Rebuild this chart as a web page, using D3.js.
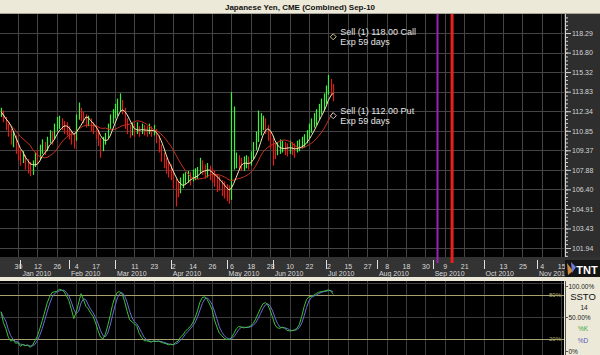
<!DOCTYPE html>
<html>
<head>
<meta charset="utf-8">
<title>Japanese Yen, CME (Combined) Sep-10</title>
<script src="https://d3js.org/d3.v7.min.js"></script>
<style>
  body { margin: 0; background: #ece9d8; }
  svg { display: block; font-family: "Liberation Sans", Arial, sans-serif; }
</style>
</head>
<body>
<div id="chart"></div>
<script>
// bars, one per trading slot, starting at slot -7 (slot 0 = Dec 30 2009)
const firstSlot = -7;
const closes = [
  112.3,111.8,111.2,110.9,110.1,110.3,109.4,109.1,108.6,108.9,
  108.3,108.1,107.8,108.3,108.8,108.6,109.3,109.6,109.5,110.0,
  110.4,110.2,110.9,111.3,111.5,111.3,111.1,110.9,110.7,110.2,
  110.0,111.8,112.4,112.0,111.8,111.5,111.6,111.2,111.0,110.7,
  110.1,109.5,109.9,110.3,111.0,111.6,111.9,112.3,112.6,112.9,
  112.5,111.4,111.0,110.8,111.0,110.9,111.0,110.8,111.0,110.9,
  110.8,110.9,110.8,110.9,110.3,109.6,109.0,108.4,108.1,107.8,
  107.7,106.9,106.5,106.3,106.8,107.0,107.2,107.3,107.2,107.4,
  107.5,107.6,108.2,108.0,107.7,107.8,107.6,107.4,107.2,107.0,
  106.8,106.5,106.3,106.1,106.0,107.6,108.3,108.6,108.4,108.2,
  108.3,108.5,108.4,108.7,109.3,109.9,110.6,111.2,111.5,111.1,
  110.6,110.0,109.6,109.2,109.5,109.6,109.7,109.5,109.4,109.6,
  109.5,109.4,109.6,109.7,109.9,110.1,110.4,110.8,111.2,111.6,
  111.9,112.3,112.6,113.0,113.6,114.4,114.0,113.6
];
const highs = [
  112.6,112.4,111.9,111.4,111.0,110.8,110.5,109.7,109.4,109.3,
  109.0,108.7,108.5,108.6,109.2,109.4,109.8,110.2,110.0,110.4,
  110.9,110.8,111.4,111.9,112.0,111.8,111.6,111.5,111.2,110.9,
  110.6,112.1,113.0,112.6,112.3,112.1,112.0,111.8,111.5,111.3,
  110.9,110.3,110.4,110.7,111.4,112.1,112.5,112.9,113.3,113.7,
  113.2,112.6,111.8,111.3,111.5,111.4,111.5,111.2,111.4,111.3,
  111.2,111.4,111.2,111.3,111.0,110.5,109.8,109.2,108.8,108.5,
  108.3,107.9,107.2,107.0,107.3,107.6,107.7,107.8,107.7,107.9,
  108.0,108.1,108.8,108.6,108.3,108.4,108.2,108.0,107.8,107.5,
  107.4,107.1,107.0,106.8,106.7,113.8,112.7,109.2,109.0,108.8,
  108.9,109.0,108.9,109.3,110.0,110.8,112.4,112.2,112.0,111.8,
  111.3,110.8,110.3,109.9,110.0,110.2,110.1,110.0,109.9,110.1,
  110.0,109.9,110.1,110.2,110.4,110.6,110.9,111.4,111.8,112.2,
  112.5,112.9,113.3,113.7,114.3,115.1,114.8,114.4
];
const lows = [
  111.9,111.5,110.9,110.4,109.8,109.6,109.1,108.6,108.2,108.4,
  107.9,107.6,107.4,107.5,108.1,108.3,108.7,109.1,109.0,109.3,
  109.9,109.8,110.2,110.8,111.0,110.9,110.6,110.5,110.2,109.8,
  109.5,110.1,111.7,111.6,111.4,111.1,111.2,110.8,110.6,110.2,
  109.7,108.8,109.3,109.8,110.3,111.0,111.4,111.8,112.0,112.3,
  112.1,111.0,110.6,110.3,110.5,110.4,110.6,110.4,110.6,110.5,
  110.4,110.6,110.4,110.5,109.9,109.2,108.5,108.0,107.6,107.3,
  107.1,106.4,105.1,105.8,106.1,106.5,106.8,106.9,106.7,107.0,
  107.1,107.2,107.6,107.5,107.2,107.3,107.1,106.9,106.6,106.2,
  106.3,105.9,105.7,105.5,105.3,105.6,107.9,108.0,107.9,107.8,
  107.8,108.0,107.9,108.2,108.7,109.4,110.0,110.5,110.9,110.6,
  110.1,109.5,108.2,108.7,109.0,109.1,109.2,109.0,108.9,109.1,
  109.0,108.8,109.2,109.3,109.5,109.6,109.9,110.3,110.7,111.1,
  111.3,111.7,112.1,112.4,112.9,113.6,113.5,113.1
];

// axis labels
const priceTicks = [101.94,103.43,104.91,106.40,107.88,109.37,110.85,112.34,113.83,115.32,116.80,118.29];
const dayLabels = ["30","12","26","4","17","","11","23","2","14","26","6","18","28","10",
                   "22","2","15","27","8","18","30","9","21","","13","25","4","15"];
const monthLabels = ["Jan 2010","Feb 2010","Mar 2010","Apr 2010","May 2010","Jun 2010",
                     "Jul 2010","Aug 2010","Sep 2010","Oct 2010","Nov 2010"];
const monthStarts = [1,21,40,63,86,105,127,148,171,192,214];

// option orders and expiry lines
const orderLabels = ["Sell (1) 118.00 Call","Sell (1) 112.00 Put"];
const orderStrikes = [118.00, 112.00];
const orderExpiry = ["Exp 59 days","Exp 59 days"];
const expirySlots = [173, 179];

const W = 600, H = 355;
const plotR = 564, mainTop = 14, mainBot = 257, axisBot = 277, oscTop = 281;

const x = d3.scaleLinear().domain([0, 224]).range([18, 18 + 28 * 19.4]);
const y = d3.scaleLinear().domain([101.94, 118.29]).range([248, 33]);
const oy = d3.scaleLinear().domain([20, 80]).range([339, 295]);

const bars = closes.map((c, i) => ({
  slot: firstSlot + i, close: c, high: highs[i], low: lows[i],
  up: i === 0 ? true : c >= closes[i - 1]
}));

function sma(arr, n) {
  return arr.map((v, i) => d3.mean(arr.slice(Math.max(0, i - n + 1), i + 1)));
}
const maFast = sma(closes, 5);
const maSlow = sma(closes, 13);

// slow stochastic 14
const fastK = closes.map((c, i) => {
  const hh = d3.max(highs.slice(Math.max(0, i - 13), i + 1));
  const ll = d3.min(lows.slice(Math.max(0, i - 13), i + 1));
  return hh === ll ? 50 : 100 * (c - ll) / (hh - ll);
});
const slowK = sma(fastK, 3);
const slowD = sma(slowK, 3);

const svg = d3.select("#chart").append("svg").attr("width", W).attr("height", H);

svg.append("rect").attr("width", W).attr("height", H).attr("fill", "#ece9d8");
svg.append("line").attr("x1", 0).attr("x2", W).attr("y1", 13.5).attr("y2", 13.5).attr("stroke", "#a8a69a");
svg.append("text").attr("x", 300).attr("y", 10).attr("text-anchor", "middle")
  .attr("font-size", 8).attr("font-weight", "bold").attr("fill", "#111")
  .text("Japanese Yen, CME (Combined) Sep-10");

// panels
svg.append("rect").attr("x", 0).attr("y", mainTop).attr("width", plotR).attr("height", mainBot - mainTop).attr("fill", "#000");
svg.append("rect").attr("x", plotR).attr("y", mainTop).attr("width", W - plotR).attr("height", mainBot - mainTop).attr("fill", "#2e2e2e");
svg.append("rect").attr("x", 0).attr("y", mainBot).attr("width", W).attr("height", axisBot - mainBot).attr("fill", "#333");
svg.append("rect").attr("x", 0).attr("y", oscTop).attr("width", plotR).attr("height", H - oscTop).attr("fill", "#000");

svg.append("clipPath").attr("id", "clipMain").append("rect")
  .attr("x", 0).attr("y", mainTop).attr("width", plotR).attr("height", mainBot - mainTop);
svg.append("clipPath").attr("id", "clipOsc").append("rect")
  .attr("x", 0).attr("y", oscTop).attr("width", plotR).attr("height", H - oscTop);

const gridSlots = d3.range(0, 29).map(k => k * 8);
const px = v => Math.round(v) + 0.5;

// main grid
const main = svg.append("g").attr("clip-path", "url(#clipMain)");
main.selectAll(".vg").data(gridSlots).join("line")
  .attr("x1", d => px(x(d))).attr("x2", d => px(x(d)))
  .attr("y1", mainTop).attr("y2", mainBot).attr("stroke", "#444");
main.selectAll(".hg").data(priceTicks).join("line")
  .attr("x1", 0).attr("x2", plotR)
  .attr("y1", d => px(y(d))).attr("y2", d => px(y(d))).attr("stroke", "#444");

// bars
main.selectAll(".bar").data(bars).join("line")
  .attr("x1", d => px(x(d.slot))).attr("x2", d => px(x(d.slot)))
  .attr("y1", d => y(d.high)).attr("y2", d => y(d.low))
  .attr("stroke", d => d.up ? "#3cf03c" : "#e01c14").attr("stroke-width", 1.2);

// moving averages
const maLine = d3.line().x((d, i) => x(firstSlot + i)).y(d => y(d));
main.append("path").datum(maSlow).attr("d", maLine).attr("fill", "none").attr("stroke", "#c8321e").attr("stroke-width", 1);
main.append("path").datum(maFast).attr("d", maLine).attr("fill", "none").attr("stroke", "#f0ecb8").attr("stroke-width", 1);

// expiry lines
const expColors = ["#9a22b4", "#e8201c"];
const expWidths = [2, 3];
svg.selectAll(".exp").data(expirySlots).join("line")
  .attr("x1", d => x(d)).attr("x2", d => x(d))
  .attr("y1", mainTop).attr("y2", mainBot + 6)
  .attr("stroke", (d, i) => expColors[i]).attr("stroke-width", (d, i) => expWidths[i]);

// orders
const lastSlot = firstSlot + closes.length - 1;
const orderColors = ["#c8c890", "#c8c8c8"];
orderStrikes.forEach((s, i) => {
  const cx = x(lastSlot), cy = y(s);
  svg.append("path")
    .attr("d", `M${cx},${cy - 3}L${cx + 3},${cy}L${cx},${cy + 3}L${cx - 3},${cy}Z`)
    .attr("fill", "none").attr("stroke", orderColors[i]).attr("stroke-width", 1);
  svg.append("text").attr("x", cx + 7).attr("y", cy - 1.5)
    .attr("font-size", 9).attr("fill", "#e4e4e4").text(orderLabels[i]);
  svg.append("text").attr("x", cx + 7).attr("y", cy + 8.5)
    .attr("font-size", 9).attr("fill", "#e4e4e4").text(orderExpiry[i]);
});

// right price axis
const step = (priceTicks[priceTicks.length - 1] - priceTicks[0]) / (priceTicks.length - 1);
const minor = d3.range(-6, 70).map(j => priceTicks[0] + j * step / 5)
  .filter(v => y(v) > mainTop + 1 && y(v) < mainBot - 1);
svg.append("g").attr("transform", `translate(${plotR + 1},0)`)
  .call(d3.axisRight(y).tickValues(minor).tickSize(3).tickFormat(""))
  .call(g => g.select(".domain").remove())
  .selectAll("line").attr("stroke", "#d0d0d0");
const yAxis = svg.append("g").attr("transform", `translate(${plotR + 1},0)`)
  .call(d3.axisRight(y).tickValues(priceTicks).tickSize(6).tickPadding(1).tickFormat(d3.format(".2f")));
yAxis.select(".domain").remove();
yAxis.selectAll("line").attr("stroke", "#d0d0d0");
yAxis.selectAll("text").attr("fill", "#d4d4d4").attr("font-size", 7)
  .attr("font-family", "'Liberation Sans', Arial, sans-serif");
svg.append("line").attr("x1", plotR + 1.5).attr("x2", plotR + 1.5)
  .attr("y1", mainTop).attr("y2", mainBot).attr("stroke", "#cfcfcf");

// bottom date axis
const xAxis = svg.append("g").attr("transform", `translate(0,${mainBot})`)
  .call(d3.axisBottom(x).tickValues(gridSlots).tickSize(0).tickPadding(0)
    .tickFormat((d, i) => dayLabels[i]));
xAxis.select(".domain").remove();
xAxis.selectAll("text").attr("y", 11.5).attr("dy", 0).attr("fill", "#dadada").attr("font-size", 7)
  .attr("font-family", "'Liberation Sans', Arial, sans-serif");
svg.selectAll(".msep").data(monthStarts).join("line")
  .attr("x1", d => px(x(d))).attr("x2", d => px(x(d)))
  .attr("y1", mainBot + 3).attr("y2", mainBot + 12).attr("stroke", "#e0e0e0");
svg.selectAll(".mlab").data(monthStarts).join("text")
  .attr("x", d => x(d) + 2).attr("y", mainBot + 18.5)
  .attr("font-size", 7).attr("fill", "#dadada")
  .text((d, i) => monthLabels[i]);

// TNT badge
svg.append("rect").attr("x", plotR + 1).attr("y", mainBot + 3).attr("width", W - plotR - 1).attr("height", 17).attr("fill", "#141414");
svg.append("path").attr("d", `M${plotR + 3},${mainBot + 6}L${plotR + 9},${mainBot + 14}L${plotR + 4},${mainBot + 18}Z`).attr("fill", "#d08a3c");
svg.append("path").attr("d", `M${plotR + 7},${mainBot + 5}L${plotR + 12},${mainBot + 10}L${plotR + 8},${mainBot + 16}Z`).attr("fill", "#6a7ad8");
svg.append("text").attr("x", plotR + 23).attr("y", mainBot + 16.5).attr("text-anchor", "middle")
  .attr("font-size", 11).attr("font-weight", "bold").attr("fill", "#fff").text("TNT");

// oscillator
const osc = svg.append("g").attr("clip-path", "url(#clipOsc)");
osc.selectAll(".ovg").data(gridSlots).join("line")
  .attr("x1", d => px(x(d))).attr("x2", d => px(x(d)))
  .attr("y1", oscTop).attr("y2", H).attr("stroke", "#3c3c3c");
osc.selectAll(".ohg").data([97, 50]).join("line")
  .attr("x1", 0).attr("x2", plotR)
  .attr("y1", d => px(oy(d))).attr("y2", d => px(oy(d))).attr("stroke", "#3c3c3c");
osc.selectAll(".olvl").data([80, 20]).join("line")
  .attr("x1", 0).attr("x2", plotR)
  .attr("y1", d => px(oy(d))).attr("y2", d => px(oy(d))).attr("stroke", "#a8a070").attr("stroke-width", 1.2);
const oLine = d3.line().x((d, i) => x(firstSlot + i)).y(d => oy(d));
osc.append("path").datum(slowD).attr("d", oLine).attr("fill", "none").attr("stroke", "#6c6cd4").attr("stroke-width", 1);
osc.append("path").datum(slowK).attr("d", oLine).attr("fill", "none").attr("stroke", "#3cc23c").attr("stroke-width", 1);
osc.selectAll(".olab").data([80, 20]).join("text")
  .attr("x", plotR - 3).attr("y", d => oy(d) + 2).attr("text-anchor", "end")
  .attr("font-size", 6).attr("fill", "#b4ac70").text(d => d + "%");

// oscillator legend panel
svg.append("rect").attr("x", plotR).attr("y", oscTop).attr("width", W - plotR).attr("height", H - oscTop).attr("fill", "#ece9d8");
svg.append("line").attr("x1", plotR + 1.5).attr("x2", plotR + 1.5).attr("y1", oscTop).attr("y2", H).attr("stroke", "#555");
const legendTicks = [100, 50, 0];
const legendText = ["100.00%", "50.00%", "0%"];
svg.selectAll(".ltk").data(legendTicks).join("line")
  .attr("x1", plotR + 1.5).attr("x2", plotR + 4)
  .attr("y1", d => px(Math.min(Math.max(oy(d), oscTop + 5), H - 4))).attr("y2", d => px(Math.min(Math.max(oy(d), oscTop + 5), H - 4)))
  .attr("stroke", "#555");
svg.selectAll(".ltx").data(legendTicks).join("text")
  .attr("x", plotR + 4.5).attr("y", d => Math.min(Math.max(oy(d), oscTop + 5), H - 4) + 2.5)
  .attr("font-size", 6.5).attr("fill", "#222").text((d, i) => legendText[i]);
svg.append("text").attr("x", 583).attr("y", 300).attr("text-anchor", "middle")
  .attr("font-size", 9.5).attr("fill", "#111").text("SSTO");
svg.append("text").attr("x", 584).attr("y", 310).attr("text-anchor", "middle")
  .attr("font-size", 6.5).attr("fill", "#222").text("14");
svg.append("text").attr("x", 583).attr("y", 331).attr("text-anchor", "middle")
  .attr("font-size", 6.5).attr("fill", "#3caa3c").text("%K");
svg.append("text").attr("x", 583).attr("y", 343).attr("text-anchor", "middle")
  .attr("font-size", 6.5).attr("fill", "#5a5ac0").text("%D");
</script>
</body>
</html>
